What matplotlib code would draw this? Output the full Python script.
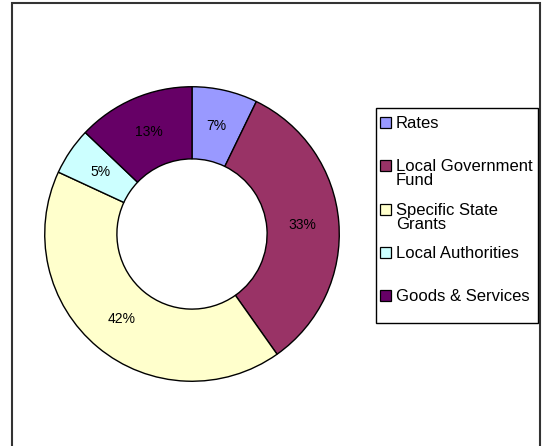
import matplotlib
matplotlib.use("Agg")
import matplotlib.pyplot as plt
from matplotlib.patches import Rectangle

plt.rcParams['font.family'] = ['Liberation Sans', 'DejaVu Sans']

# data
categories = ['Rates', 'Local Government\nFund', 'Specific State\nGrants',
              'Local Authorities', 'Goods & Services']
shares = [7.2, 33.0, 41.7, 5.2, 12.9]
colors = ['#9999FF', '#993366', '#FFFFCC', '#CCFFFF', '#660066']

W, H = 546, 446
fig = plt.figure(figsize=(W / 100, H / 100), dpi=100)

# outer chart border
fig.patches.append(Rectangle((12 / W, -0.05), 528 / W, 1.05 - 3 / H,
                             transform=fig.transFigure, fill=False,
                             edgecolor='#333333', linewidth=1.5))

# pie axes: centre (192, 234), radius 148 px
cx, cy, R = 192, 234, 148
ax = fig.add_axes([(cx - R) / W, (H - cy - R) / H, 2 * R / W, 2 * R / H])
wedges, texts, autotexts = ax.pie(
    shares, colors=colors, startangle=90, counterclock=False,
    radius=1.0, autopct='%.0f%%', pctdistance=0.75,
    wedgeprops=dict(width=0.49, edgecolor='black', linewidth=1.0),
    textprops=dict(fontsize=10, color='black'))
ax.set_xlim(-1.005, 1.005)
ax.set_ylim(-1.005, 1.005)
ax.set_aspect('equal')
ax.axis('off')

# legend, drawn by hand to mimic the spreadsheet layout
lx0, ly0, lx1, ly1 = 376, 108, 538, 323
fig.patches.append(Rectangle((lx0 / W, 1 - ly1 / H), (lx1 - lx0) / W,
                             (ly1 - ly0) / H, transform=fig.transFigure,
                             facecolor='white', edgecolor='black',
                             linewidth=1.0, zorder=5))
base0, step = 128, 43.3
for i, (lab, col) in enumerate(zip(categories, colors)):
    b = base0 + i * step
    fig.patches.append(Rectangle((380 / W, 1 - b / H), 11 / W, 11 / H,
                                 transform=fig.transFigure, facecolor=col,
                                 edgecolor='black', linewidth=0.9, zorder=6))
    fig.text(396 / W, 1 - (b - 12) / H, lab, fontsize=12, va='top',
             ha='left', linespacing=0.92, zorder=7)

fig.savefig('out.png', dpi=100)
